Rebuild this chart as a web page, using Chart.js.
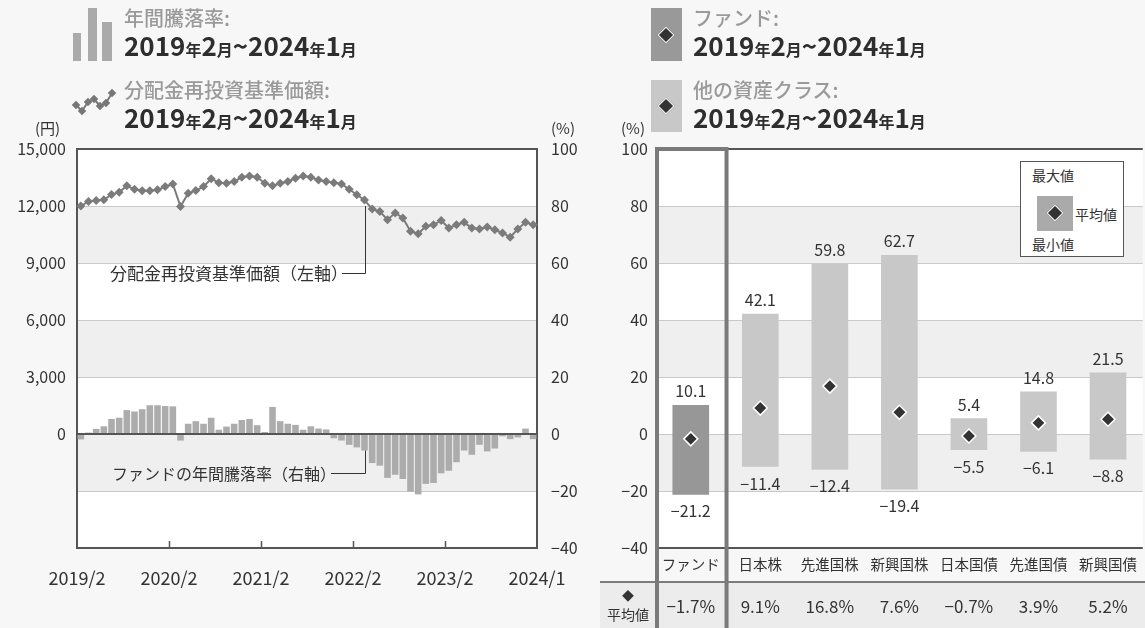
<!DOCTYPE html>
<html><head><meta charset="utf-8">
<script src="https://cdn.jsdelivr.net/npm/chart.js@4.4.1/dist/chart.umd.min.js"></script>
<style>
body{margin:0;background:#f7f7f7;width:1145px;height:628px;overflow:hidden;position:relative;font-family:'Noto Sans CJK JP','Noto Sans',sans-serif;color:#333}
canvas{position:absolute;top:0}
#c1{left:0}
#c2{left:600px}
.abs{position:absolute;white-space:nowrap;line-height:1}
.cap{font-size:20px;color:#9a9a9a;font-weight:500}
.date{font-size:26px;font-weight:700;color:#2e2e2e}
.date small{font-size:16px;font-weight:700}
.unit{font-size:15px;color:#333}
.sq{position:absolute}
.dia{position:absolute;width:10px;height:10px;background:#333;border:1.5px solid #fff;transform:rotate(45deg)}
#lgbox{position:absolute;left:1020px;top:161px;width:102px;height:94px;border:1px solid #555;background:#fff}
#lgbox span{position:absolute;font-size:14px;line-height:1;color:#333;white-space:nowrap}
</style></head>
<body>
<canvas id="c1" width="600" height="628"></canvas>
<canvas id="c2" width="545" height="628"></canvas>

<!-- left legend -->
<div class="sq" style="left:73px;top:33px;width:8px;height:28px;background:#aaa"></div>
<div class="sq" style="left:88px;top:8px;width:9px;height:53px;background:#aaa"></div>
<div class="sq" style="left:102px;top:22px;width:10px;height:39px;background:#aaa"></div>
<div class="abs cap" style="left:124px;top:8px">年間騰落率:</div>
<div class="abs date" style="left:124px;top:32px">2019<small>年</small>2<small>月</small>~2024<small>年</small>1<small>月</small></div>
<svg class="sq" style="left:70px;top:84px" width="54" height="34">
<polyline points="6,21 12,27 18,18 24,15 30,22 36,19 42,9" fill="none" stroke="#777" stroke-width="2"/>
<g fill="#777">
<rect x="3" y="18" width="6" height="6" transform="rotate(45 6 21)"/>
<rect x="9" y="24" width="6" height="6" transform="rotate(45 12 27)"/>
<rect x="15" y="15" width="6" height="6" transform="rotate(45 18 18)"/>
<rect x="21" y="12" width="6" height="6" transform="rotate(45 24 15)"/>
<rect x="27" y="19" width="6" height="6" transform="rotate(45 30 22)"/>
<rect x="33" y="16" width="6" height="6" transform="rotate(45 36 19)"/>
<rect x="39" y="6" width="6" height="6" transform="rotate(45 42 9)"/>
</g></svg>
<div class="abs cap" style="left:124px;top:80px">分配金再投資基準価額:</div>
<div class="abs date" style="left:124px;top:104px">2019<small>年</small>2<small>月</small>~2024<small>年</small>1<small>月</small></div>
<div class="abs unit" style="left:35px;top:120px">(円)</div>
<div class="abs unit" style="left:551px;top:120px">(%)</div>
<div class="abs unit" style="left:621px;top:120px">(%)</div>

<!-- right legend -->
<div class="sq" style="left:651px;top:8px;width:31px;height:53px;background:#999"></div>
<div class="dia" style="left:660px;top:29px"></div>
<div class="abs cap" style="left:693px;top:8px">ファンド:</div>
<div class="abs date" style="left:693px;top:32px">2019<small>年</small>2<small>月</small>~2024<small>年</small>1<small>月</small></div>
<div class="sq" style="left:651px;top:80px;width:31px;height:52px;background:#c8c8c8"></div>
<div class="dia" style="left:660px;top:100px"></div>
<div class="abs cap" style="left:693px;top:80px">他の資産クラス:</div>
<div class="abs date" style="left:693px;top:104px">2019<small>年</small>2<small>月</small>~2024<small>年</small>1<small>月</small></div>

<div id="lgbox">
<span style="left:11px;top:6px">最大値</span>
<div class="sq" style="left:16px;top:34px;width:36px;height:35px;background:#aaa"></div>
<div class="dia" style="left:28px;top:45px"></div>
<span style="left:54px;top:45px">平均値</span>
<span style="left:11px;top:75px">最小値</span>
</div>

<script>
// ---------- data ----------
const months = ['2019/2','2019/3','2019/4','2019/5','2019/6','2019/7','2019/8','2019/9','2019/10','2019/11','2019/12',
 '2020/1','2020/2','2020/3','2020/4','2020/5','2020/6','2020/7','2020/8','2020/9','2020/10','2020/11','2020/12',
 '2021/1','2021/2','2021/3','2021/4','2021/5','2021/6','2021/7','2021/8','2021/9','2021/10','2021/11','2021/12',
 '2022/1','2022/2','2022/3','2022/4','2022/5','2022/6','2022/7','2022/8','2022/9','2022/10','2022/11','2022/12',
 '2023/1','2023/2','2023/3','2023/4','2023/5','2023/6','2023/7','2023/8','2023/9','2023/10','2023/11','2023/12',
 '2024/1'];
const navValues = [12000,12240,12290,12330,12600,12730,13060,12880,12800,12800,12850,13020,13160,
 11970,12670,12810,13020,13430,13230,13200,13290,13510,13580,13510,13200,13060,13200,13290,13460,
 13580,13510,13370,13290,13230,13160,12880,12590,12320,11840,11710,11280,11630,11370,10670,10540,
 10930,11010,11240,10840,11010,11140,10840,10790,10890,10750,10580,10360,10790,11140,11010];
const fundReturns = [-1.9,0.5,1.8,2.7,5.3,5.7,8.4,7.9,8.7,10.1,10.1,9.8,9.7,
 -2.3,3.6,4.5,3.6,5.7,1.5,2.6,3.6,4.9,5.3,3.1,0.7,9.5,4.5,3.6,3.2,1.5,2.7,1.9,1.6,
 -1.5,-2.3,-3.8,-4.7,-5.8,-10.2,-11.1,-15.4,-14.3,-15.8,-20.2,-21.2,-17.5,-17.2,-13.8,-12.9,
 -9.9,-5.8,-7.3,-3.8,-6.1,-5.1,-0.8,-1.8,-1.2,1.9,-1.8];
const xTickLabels = ['2019/2','2020/2','2021/2','2022/2','2023/2','2024/1'];
const leftTicksYen = [0,3000,6000,9000,12000,15000];
const navNote = '分配金再投資基準価額（左軸）';
const retNote = 'ファンドの年間騰落率（右軸）';

const assetClasses = ['ファンド','日本株','先進国株','新興国株','日本国債','先進国債','新興国債'];
const maxReturns = [10.1,42.1,59.8,62.7,5.4,14.8,21.5];
const minReturns = [-21.2,-11.4,-12.4,-19.4,-5.5,-6.1,-8.8];
const avgReturns = [-1.7,9.1,16.8,7.6,-0.7,3.9,5.2];

// ---------- helpers ----------
const FONT = "'Noto Sans CJK JP','Noto Sans',sans-serif";
const minus = s => String(s).replace('-', '\u2212');
const DARK = '#555';
const GRID = '#c9c9c9';
const BANDS = [[60,80],[20,40],[-20,0]];

const bandPlugin = {
  id:'bands',
  beforeDraw(chart, args, opts){
    const {ctx, chartArea:a} = chart;
    const ys = chart.scales[opts.axis];
    ctx.save();
    ctx.fillStyle = '#fff';
    ctx.fillRect(a.left, a.top, a.right - a.left, a.bottom - a.top);
    ctx.fillStyle = '#efefef';
    BANDS.forEach(([lo,hi]) => {
      const t = ys.getPixelForValue(hi), b = ys.getPixelForValue(lo);
      ctx.fillRect(a.left, t, a.right - a.left, b - t);
    });
    ctx.restore();
  }
};

const gridColor = (zeroDark) => c => {
  const v = c.tick && c.tick.value;
  if (v === 100 || v === -40) return DARK;
  if (zeroDark && v === 0) return DARK;
  return GRID;
};
const gridWidth = (zeroDark) => c => {
  const v = c.tick && c.tick.value;
  if (v === 100 || v === -40) return 2;
  if (zeroDark && v === 0) return 2;
  return 1;
};

Chart.defaults.font.family = FONT;
Chart.defaults.color = '#333';

// ---------- left chart ----------
const annotPlugin = {
  id:'annot',
  afterDatasetsDraw(chart){
    const {ctx} = chart;
    const xs = chart.scales.x, yl = chart.scales.y, yr = chart.scales.y1;
    const idx = 37;
    const px = Math.round(xs.getPixelForValue(idx)) + 0.5;
    ctx.save();
    ctx.fillStyle = '#333';
    ctx.textBaseline = 'middle';
    ctx.strokeStyle = '#333';
    ctx.lineWidth = 1;
    // nav note
    ctx.font = '17px ' + FONT;
    let ty = 273.5;
    ctx.fillText(navNote, 110, ty);
    let w = ctx.measureText(navNote).width;
    ctx.beginPath();
    ctx.moveTo(110 + w - 6, ty); ctx.lineTo(px, ty);
    ctx.lineTo(px, yl.getPixelForValue(navValues[idx]) + 6);
    ctx.stroke();
    // return note
    ctx.font = '16px ' + FONT;
    ty = 473.5;
    ctx.fillText(retNote, 112, ty);
    w = ctx.measureText(retNote).width;
    ctx.beginPath();
    ctx.moveTo(112 + w - 5, ty); ctx.lineTo(px, ty);
    ctx.lineTo(px, yr.getPixelForValue(fundReturns[idx]));
    ctx.stroke();
    // inner ticks on x axis
    const x2 = chart.scales.x2, a = chart.chartArea;
    ctx.strokeStyle = DARK; ctx.lineWidth = 1.5;
    for (let i = 1; i < xTickLabels.length - 1; i++) {
      const x = Math.round(x2.getPixelForValue(i)) + 0.5;
      ctx.beginPath(); ctx.moveTo(x, a.bottom); ctx.lineTo(x, a.bottom - 7); ctx.stroke();
    }
    ctx.restore();
  }
};

new Chart(document.getElementById('c1'), {
  data:{
    labels: months,
    datasets:[
      {type:'line', data:navValues, yAxisID:'y', xAxisID:'x', borderColor:'#7b7b7b', borderWidth:2,
       pointStyle:'rectRot', pointRadius:4.5, pointBackgroundColor:'#7b7b7b', pointBorderWidth:0, order:0},
      {type:'bar', data:fundReturns, yAxisID:'y1', xAxisID:'x', backgroundColor:'#acacac',
       barPercentage:0.86, categoryPercentage:1, order:1}
    ]
  },
  options:{
    responsive:false, animation:false, devicePixelRatio:1,
    layout:{autoPadding:false, padding:{top:149, left:0, right:0, bottom:0}},
    plugins:{legend:{display:false}, tooltip:{enabled:false}, bands:{axis:'y1'}},
    scales:{
      x:{type:'category', offset:true, display:false},
      x2:{type:'linear', position:'bottom', min:0, max:5,
          grid:{display:false, drawTicks:false}, border:{display:false},
          ticks:{stepSize:1, autoSkip:false, maxRotation:0, padding:19, font:{size:18}, color:'#333',
                 callback:v => xTickLabels[v] || ''},
          afterFit:s => { s.height = 80; }},
      y:{position:'left', min:-6000, max:15000,
         grid:{display:false, drawTicks:false}, border:{color:DARK, width:2},
         afterBuildTicks:s => { s.ticks = leftTicksYen.map(v => ({value:v})); },
         ticks:{padding:11, font:{size:16}, color:'#333', callback:v => v.toLocaleString('en-US')},
         afterFit:s => { s.width = 77; }},
      y1:{position:'right', min:-40, max:100,
          grid:{color:gridColor(true), lineWidth:gridWidth(true), drawTicks:false}, border:{color:DARK, width:2},
          ticks:{stepSize:20, padding:14, font:{size:16}, color:'#333', callback:v => minus(v)},
          afterFit:s => { s.width = 63; }}
    }
  },
  plugins:[bandPlugin, annotPlugin]
});

// ---------- right chart ----------
const tablePlugin = {
  id:'table',
  afterDraw(chart){
    const {ctx, chartArea:a} = chart;
    const xs = chart.scales.x, ys = chart.scales.y;
    ctx.save();
    // data labels
    ctx.font = '16px ' + FONT; ctx.fillStyle = '#333'; ctx.textAlign = 'center'; ctx.textBaseline = 'middle';
    maxReturns.forEach((v,i) => {
      const x = xs.getPixelForValue(i);
      ctx.fillText(minus(v.toFixed(1)), x, ys.getPixelForValue(v) - 14);
      const m = minReturns[i];
      ctx.fillText(minus(m.toFixed(1)), x, ys.getPixelForValue(m) + 17);
    });
    // table row
    const top = 582;
    ctx.fillStyle = '#ececec';
    ctx.fillRect(0, top, chart.width, chart.height - top);
    ctx.strokeStyle = DARK; ctx.lineWidth = 1.5;
    ctx.beginPath(); ctx.moveTo(0, top); ctx.lineTo(chart.width, top); ctx.stroke();
    ctx.fillStyle = '#333';
    ctx.font = '17px ' + FONT;
    avgReturns.forEach((v,i) => {
      ctx.fillText(minus(v.toFixed(1)) + '%', xs.getPixelForValue(i), 607);
    });
    ctx.font = '12px ' + FONT;
    ctx.fillText('◆', 28, 596);
    ctx.font = '14px ' + FONT;
    ctx.fillText('平均値', 28, 615);
    // fund highlight frame
    const half = (xs.getPixelForValue(1) - xs.getPixelForValue(0)) / 2;
    const l = xs.getPixelForValue(0) - half, r = xs.getPixelForValue(0) + half;
    ctx.strokeStyle = '#7a7a7a'; ctx.lineWidth = 4;
    ctx.beginPath();
    ctx.moveTo(l + 1, chart.height); ctx.lineTo(l + 1, a.top); ctx.lineTo(r + 1, a.top); ctx.lineTo(r + 1, chart.height);
    ctx.stroke();
    ctx.restore();
  }
};

new Chart(document.getElementById('c2'), {
  data:{
    labels: assetClasses,
    datasets:[
      {type:'line', data:avgReturns, showLine:false, pointStyle:'rectRot', pointRadius:7,
       pointBackgroundColor:'#333', pointBorderColor:'#fff', pointBorderWidth:1.5, order:0},
      {type:'bar', data:maxReturns.map((m,i) => [minReturns[i], m]),
       backgroundColor:assetClasses.map((c,i) => i === 0 ? '#979797' : '#c8c8c8'),
       barThickness:36, order:1}
    ]
  },
  options:{
    responsive:false, animation:false, devicePixelRatio:1,
    layout:{autoPadding:false, padding:{top:149, left:0, right:0, bottom:0}},
    plugins:{legend:{display:false}, tooltip:{enabled:false}, bands:{axis:'y'}},
    scales:{
      x:{type:'category', offset:true, grid:{display:false, drawTicks:false}, border:{display:false},
         ticks:{padding:8, font:{size:14.5}, color:'#333', maxRotation:0, autoSkip:false},
         afterFit:s => { s.height = 80; }},
      y:{min:-40, max:100, grid:{color:gridColor(false), lineWidth:gridWidth(false), drawTicks:false},
         border:{display:false},
         ticks:{stepSize:20, padding:8, font:{size:16}, color:'#333', callback:v => minus(v)},
         afterFit:s => { s.width = 56; }}
    }
  },
  plugins:[bandPlugin, tablePlugin]
});
</script>
</body></html>
